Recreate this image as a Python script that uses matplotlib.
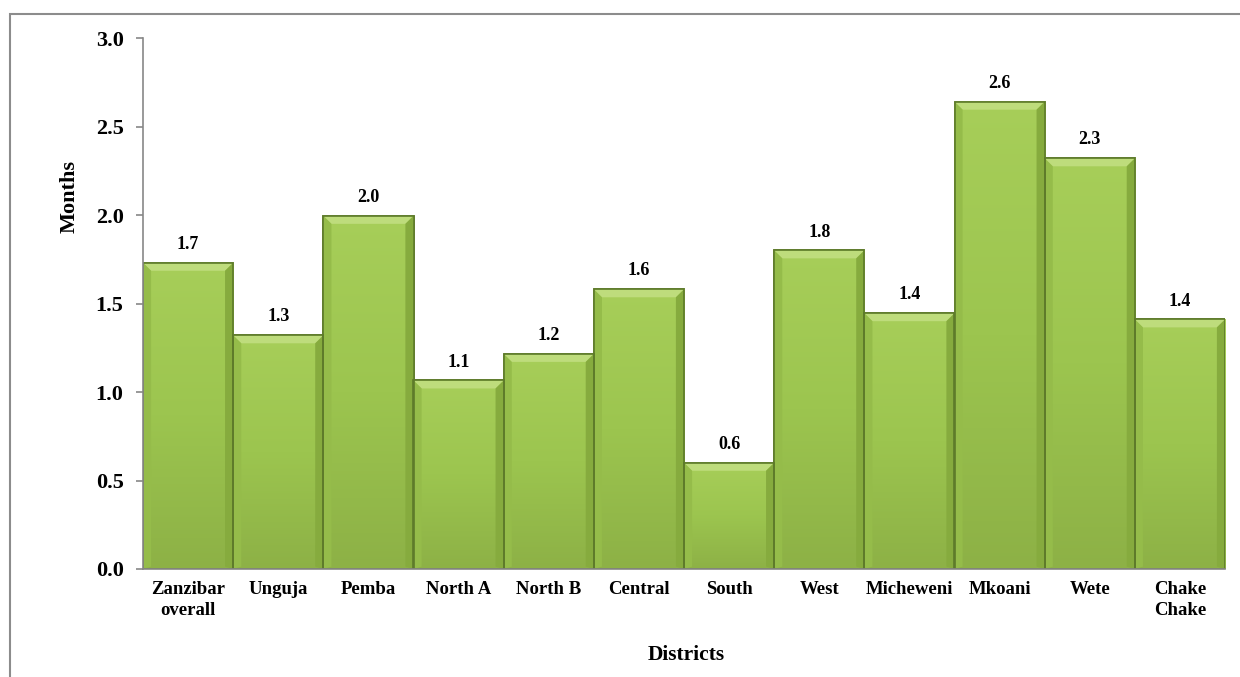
import numpy as np
import matplotlib
matplotlib.use("Agg")
import matplotlib.pyplot as plt
from matplotlib.colors import LinearSegmentedColormap
from matplotlib.patches import Polygon, Rectangle

plt.rcParams['font.family'] = ['Liberation Serif', 'DejaVu Serif']
plt.rcParams['font.weight'] = 'bold'

# Average duration per district (months)
districts = ['Zanzibar\noverall', 'Unguja', 'Pemba', 'North A', 'North B',
             'Central', 'South', 'West', 'Micheweni', 'Mkoani', 'Wete',
             'Chake\nChake']
months = [1.73, 1.32, 1.995, 1.065, 1.215, 1.58, 0.60, 1.80, 1.445, 2.64,
          2.32, 1.41]
y_ticks = [0.0, 0.5, 1.0, 1.5, 2.0, 2.5, 3.0]

fig = plt.figure(figsize=(12.4, 6.77), dpi=100)
ax = fig.add_axes([143 / 1240, 1 - 569 / 677, 1082 / 1240, 531 / 677])

# outer frame (runs off the right and bottom edge)
fig.patches.append(Rectangle((10 / 1240, -0.1), 1.2, 1.1 - 14 / 677,
                             transform=fig.transFigure, fill=False,
                             edgecolor='#8c8c8c', linewidth=1.5))

x = np.arange(len(districts))
bars = ax.bar(x, months, width=1.0, color='#9cc44e', edgecolor='#5d7a2a',
              linewidth=1.2, zorder=2)

green = LinearSegmentedColormap.from_list(
    'bar_green', ['#8db146', '#9cc54f', '#a7ce59'])
grad = np.linspace(0, 1, 256).reshape(-1, 1)

dx, dy = 0.09, 0.045
for b in bars:
    x0, w, h = b.get_x(), b.get_width(), b.get_height()
    im = ax.imshow(grad, extent=[x0, x0 + w, 0, h], origin='lower',
                   aspect='auto', cmap=green, zorder=2.1)
    im.set_clip_path(b)
    # bevelled edges
    ax.add_patch(Polygon([(x0, h), (x0 + w, h), (x0 + w - dx, h - dy),
                          (x0 + dx, h - dy)], closed=True,
                         facecolor='#bedc7c', edgecolor='none', zorder=2.2))
    ax.add_patch(Polygon([(x0, h), (x0 + dx, h - dy), (x0 + dx, dy * 0.3),
                          (x0, 0)], closed=True,
                         facecolor='#95bc4a', edgecolor='none', zorder=2.2))
    ax.add_patch(Polygon([(x0 + w, h), (x0 + w - dx, h - dy),
                          (x0 + w - dx, dy * 0.3), (x0 + w, 0)], closed=True,
                         facecolor='#86ab3e', edgecolor='none', zorder=2.2))
    ax.add_patch(Rectangle((x0, 0), w, h, fill=False, edgecolor='#5d7a2a',
                           linewidth=1.2, zorder=2.3))
    ax.annotate(f'{h:.1f}', (x0 + w / 2, h), xytext=(0, 10),
                textcoords='offset points', ha='center', va='baseline',
                fontsize=13, fontweight='bold')

ax.set_xlim(-0.5, len(districts) - 0.5)
ax.set_ylim(0, 3.0)
ax.set_yticks(y_ticks)
ax.set_yticklabels([f'{t:.1f}' for t in y_ticks])
ax.set_xticks(x)
ax.set_xticklabels(districts, linespacing=1.3)

for side in ['top', 'right']:
    ax.spines[side].set_visible(False)
for side in ['left', 'bottom']:
    ax.spines[side].set_color('#878787')
    ax.spines[side].set_linewidth(1.2)

ax.tick_params(axis='y', length=5, width=1.2, color='#878787', pad=9,
               labelsize=16)
ax.tick_params(axis='x', length=0, pad=9, labelsize=13.5)

fig.text(686 / 1240, 1 - 655 / 677, 'Districts', ha='center', va='center',
         fontsize=15.5, fontweight='bold')
fig.text(70 / 1240, 1 - 197 / 677, 'Months', ha='center', va='center',
         rotation=90, fontsize=16, fontweight='bold')

fig.savefig('out.png', dpi=100)
